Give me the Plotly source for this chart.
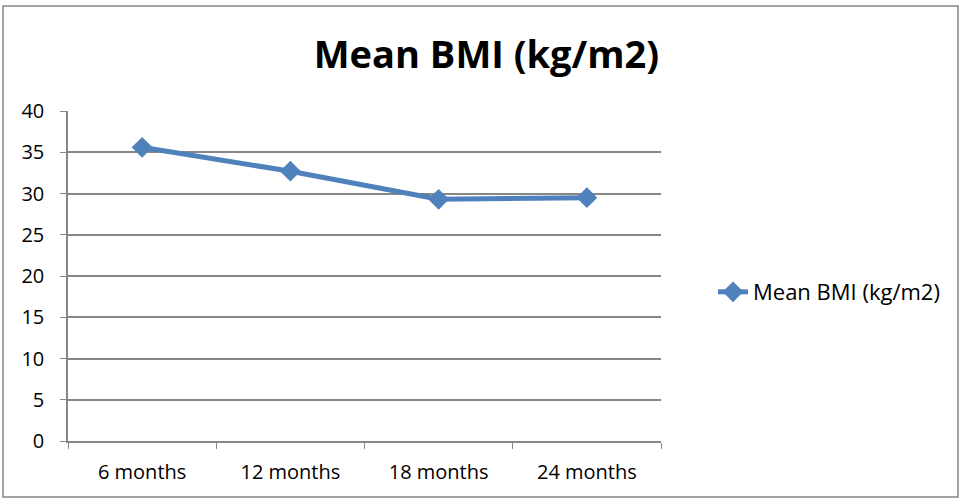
import plotly.graph_objects as go

categories = ["6 months", "12 months", "18 months", "24 months"]
mean_bmi = [35.6, 32.7, 29.3, 29.5]
y_ticks = [0, 5, 10, 15, 20, 25, 30, 35, 40]
series_name = "Mean BMI (kg/m2)"
title_text = "Mean BMI (kg/m2)"

W, H = 961, 500
L, R, T, B = 68, 661, 111, 441
FONT = "Open Sans, sans-serif"

fig = go.Figure()
fig.add_trace(go.Scatter(
    x=categories, y=mean_bmi, mode="lines+markers", name=series_name,
    line=dict(color="#4F81BD", width=5),
    marker=dict(symbol="diamond", size=16, color="#4F81BD"),
))

def px_x(v):
    return (v - L) / (R - L)

def px_y(v):
    return (B - v) / (B - T)

fig.update_layout(
    width=W, height=H,
    margin=dict(l=L, r=W - R, t=T, b=H - B),
    paper_bgcolor="white", plot_bgcolor="white",
    font=dict(family=FONT, color="black", size=20),
    title=dict(text="<b>" + title_text + "</b>", x=(310 + 663) / 2 / W, xanchor="center",
               y=1 - 55 / H, yanchor="middle",
               font=dict(size=38, family=FONT)),
    showlegend=True,
    legend=dict(x=px_x(713), y=px_y(292), xanchor="left", yanchor="middle",
                font=dict(size=22), bgcolor="rgba(0,0,0,0)"),
    xaxis=dict(type="category", range=[-0.5, 3.5], showgrid=False,
               showline=True, linecolor="#878787", linewidth=1.5,
               ticks="outside", ticklen=6, tickcolor="#878787", tickson="boundaries",
               tickfont=dict(size=20), ticklabelstandoff=12),
    yaxis=dict(range=[0, 40], tickvals=y_ticks, showgrid=True, gridcolor="#878787", gridwidth=1.5,
               showline=True, linecolor="#878787", linewidth=1.5, zeroline=False,
               ticks="outside", ticklen=6, tickcolor="#878787", tickfont=dict(size=20),
               ticklabelstandoff=12),
)

fig.add_shape(type="rect", xref="paper", yref="paper",
              x0=px_x(3), x1=px_x(958), y0=px_y(497), y1=px_y(6),
              line=dict(color="#878787", width=1.5), fillcolor="rgba(0,0,0,0)", layer="below")

fig.write_html("out.html", config={"displayModeBar": False},
               post_script="document.body.style.margin='0';document.body.style.padding='0';")
